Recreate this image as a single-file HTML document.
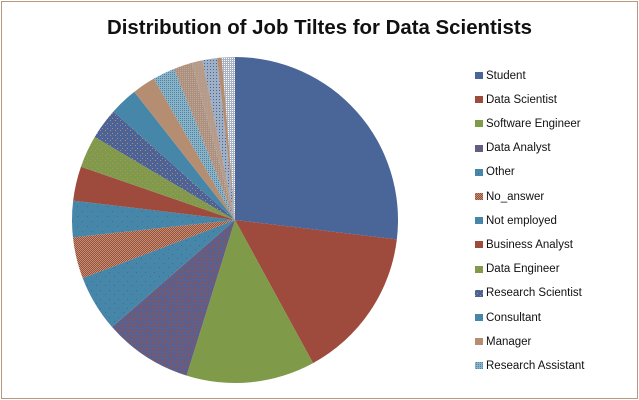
<!DOCTYPE html>
<html lang="en">
<head>
<meta charset="utf-8">
<title>Distribution of Job Tiltes for Data Scientists</title>
<style>
html,body{margin:0;padding:0;background:#fff;width:639px;height:400px;overflow:hidden}
svg{display:block}
text{font-family:"Liberation Sans",sans-serif;fill:#111}
</style>
</head>
<body>
<svg id="chart" xmlns="http://www.w3.org/2000/svg" width="639" height="400" viewBox="0 0 639 400">
  <defs>
    <pattern id="p-speckle" width="3" height="3" patternUnits="userSpaceOnUse"><rect width="3" height="3" fill="#526296"/><rect width="1" height="1" fill="#A34E3E"/><rect x="2" y="1" width="1" height="1" fill="#A34E3E"/></pattern>
    <pattern id="p-other" width="9" height="9" patternUnits="userSpaceOnUse"><rect width="9" height="9" fill="#4686A8"/><rect x="1" y="2" width="1" height="1" fill="#4C6398"/><rect x="6" y="6" width="1" height="1" fill="#4C6398"/></pattern>
    <pattern id="p-noanswer" width="2" height="2" patternUnits="userSpaceOnUse"><rect width="2" height="2" fill="#A04C3C"/><rect width="1" height="1" fill="#BC9474"/><rect x="1" y="1" width="1" height="1" fill="#BC9474"/></pattern>
    <pattern id="p-notemployed" width="10" height="10" patternUnits="userSpaceOnUse"><rect width="10" height="10" fill="#4686A8"/><rect x="2" y="1" width="1" height="1" fill="#4C6398"/><rect x="7" y="6" width="1" height="1" fill="#4C6398"/></pattern>
    <pattern id="p-engineer" width="5" height="5" patternUnits="userSpaceOnUse"><rect width="5" height="5" fill="#7F9A48"/><rect width="1" height="1" fill="#B58E72"/><rect x="2" y="3" width="1" height="1" fill="#B58E72"/></pattern>
    <pattern id="p-research" width="5" height="5" patternUnits="userSpaceOnUse"><rect width="5" height="5" fill="#4C6398"/><rect width="1" height="1" fill="#B58E72"/><rect x="2" y="3" width="1" height="1" fill="#B58E72"/></pattern>
    <pattern id="p-assistant" width="2" height="2" patternUnits="userSpaceOnUse"><rect width="2" height="2" fill="#8DB2C6"/><rect width="1" height="1" fill="#4686A8"/></pattern>
    <pattern id="p-s14" width="2" height="2" patternUnits="userSpaceOnUse"><rect width="2" height="2" fill="#B58E72"/><rect width="1" height="1" fill="#A8AFC0"/></pattern>
    <pattern id="p-s15" width="3" height="3" patternUnits="userSpaceOnUse"><rect width="3" height="3" fill="#B99A84"/><rect width="1" height="1" fill="#9DABC0"/></pattern>
    <pattern id="p-s16" width="3" height="3" patternUnits="userSpaceOnUse"><rect width="3" height="3" fill="#9FAFC4"/><rect width="1" height="1" fill="#4C6398"/></pattern>
    <pattern id="p-s18" width="2" height="2" patternUnits="userSpaceOnUse"><rect width="2" height="2" fill="#A9B2C2"/><rect width="1" height="1" fill="#fff"/></pattern>
  </defs>
  <rect x="1.5" y="1.5" width="636" height="397" fill="#fff" stroke="#B8997F" stroke-width="1"/>
  <text x="107" y="34" font-size="20.5" font-weight="700" textLength="425" lengthAdjust="spacingAndGlyphs">Distribution of Job Tiltes for Data Scientists</text>
  <g id="slices"></g>
  <g id="legend"></g>
</svg>
<script>
// Chart data: share of respondents (percent).
const categories = ["Student","Data Scientist","Software Engineer","Data Analyst","Other","No_answer","Not employed","Business Analyst","Data Engineer","Research Scientist","Consultant","Manager","Research Assistant","Other title A","Other title B","Other title C","Other title D","Other title E"];
const shares = [26.9,15.15,12.75,8.8,5.6,4.1,3.6,3.4,3.2,3.1,2.8,2.3,2.2,1.85,1.05,1.45,0.45,1.3];
const fills = ["#4A6598","#9E4A3C","#7F9A48","url(#p-speckle)","url(#p-other)","url(#p-noanswer)","url(#p-notemployed)","#9E4A3C","url(#p-engineer)","url(#p-research)","#4686A8","#B58E72","url(#p-assistant)","url(#p-s14)","url(#p-s15)","url(#p-s16)","#B58E72","url(#p-s18)"];
const legendCount = 13;

const NS = "http://www.w3.org/2000/svg";
const cx = 235, cy = 220, radius = 163;
const total = shares.reduce(function (a, b) { return a + b; }, 0);

function angleOf(cumulative) { return cumulative / total * 2 * Math.PI; }
function px(a) { return cx + radius * Math.sin(a); }
function py(a) { return cy - radius * Math.cos(a); }
function slug(s) { return s.toLowerCase().replace(/[^a-z0-9]+/g, "-"); }

const sliceGroup = document.getElementById("slices");
let running = 0;
shares.forEach(function (value, i) {
  const a0 = angleOf(running);
  running += value;
  const a1 = angleOf(running);
  const large = a1 - a0 > Math.PI ? 1 : 0;
  const path = document.createElementNS(NS, "path");
  path.setAttribute("d", "M" + cx + " " + cy + "L" + px(a0) + " " + py(a0) + "A" + radius + " " + radius + " 0 " + large + " 1 " + px(a1) + " " + py(a1) + "Z");
  path.setAttribute("fill", fills[i]);
  
  
  sliceGroup.appendChild(path);
});

const legendGroup = document.getElementById("legend");
for (let i = 0; i < legendCount; i++) {
  const rowY = 74.5 + i * 24.2;
  const swatch = document.createElementNS(NS, "rect");
  swatch.setAttribute("x", 475);
  swatch.setAttribute("y", Math.round(rowY - 2.5));
  swatch.setAttribute("width", 8);
  swatch.setAttribute("height", 7);
  swatch.setAttribute("fill", fills[i]);
  
  
  legendGroup.appendChild(swatch);
  const label = document.createElementNS(NS, "text");
  label.setAttribute("x", 486);
  label.setAttribute("y", Math.round(rowY + 4));
  label.setAttribute("font-size", "11.5");
  label.textContent = categories[i];
  
  
  legendGroup.appendChild(label);
}
</script>
</body>
</html>
